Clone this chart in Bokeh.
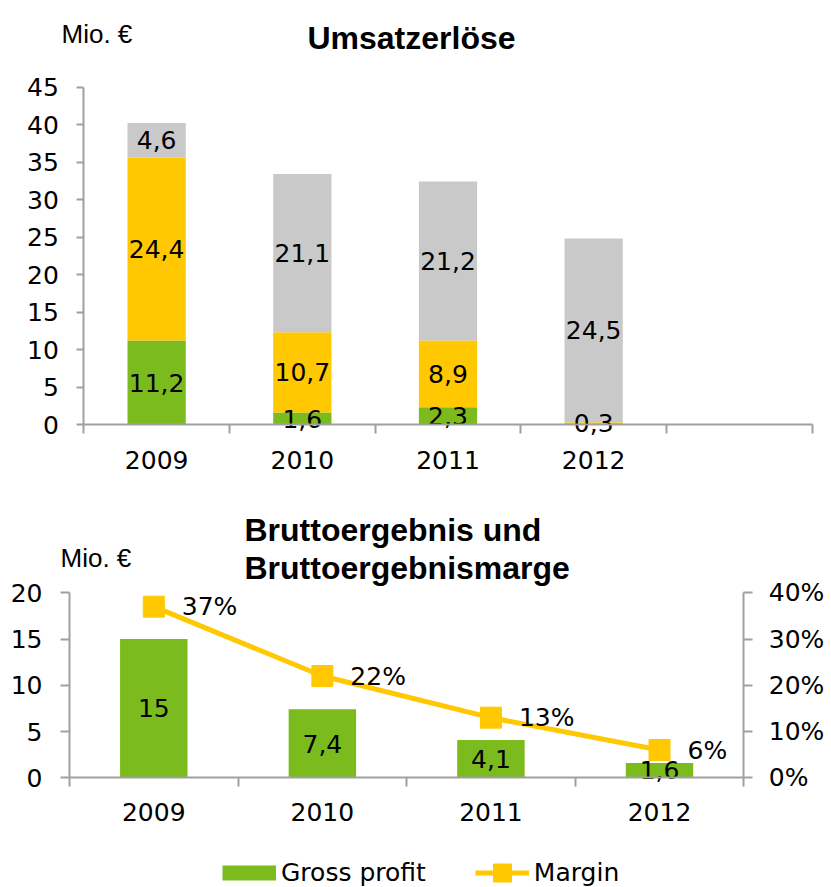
import math
from bokeh.plotting import figure
from bokeh.models import (ColumnDataSource, FixedTicker, LinearAxis, Range1d, Label,
                          Legend, LegendItem, PrintfTickFormatter)
from bokeh.layouts import column
from bokeh.embed import file_html
from bokeh.resources import INLINE
from bokeh.core.properties import value

# ---------------- data ----------------
years = ["2009", "2010", "2011", "2012"]
rev_green = [11.2, 1.6, 2.3, 0.0]
rev_yellow = [24.4, 10.7, 8.9, 0.3]
rev_gray = [4.6, 21.1, 21.2, 24.5]
top_yticks = [0, 5, 10, 15, 20, 25, 30, 35, 40, 45]

gross_profit = [15, 7.4, 4.1, 1.6]
margin_pct = [37, 22, 13, 6]
bottom_yticks = [0, 5, 10, 15, 20]
pct_ticks = [0, 10, 20, 30, 40]

# ---------------- style ----------------
GREEN = "#7BBB1E"
YELLOW = "#FFC800"
GRAY = "#C9C9C9"
AXIS = "#A0A0A0"
FONT = "DejaVu Sans"
TFONT = "Liberation Sans"
FS = "25px"
W = 831


def fmt(v):
    return ("%g" % v).replace(".", ",")


def span(px0, px1, n, total):
    """Range so that data 0..n spans screen px0..px1 on a canvas of size total."""
    k = (px1 - px0) / n
    return Range1d(-px0 / k, (total - px0) / k)


def span_y(py_top, py_zero, vmax, total):
    k = (py_zero - py_top) / vmax
    return Range1d(-(total - py_zero) / k, py_zero / k)


def style_axes(p):
    p.grid.visible = False
    p.outline_line_color = None
    for ax in p.axis:
        ax.axis_line_color = AXIS
        ax.axis_line_width = 2
        ax.major_tick_line_color = AXIS
        ax.major_tick_line_width = 2
        ax.minor_tick_line_color = AXIS
        ax.minor_tick_line_width = 2
        ax.major_tick_in = 0
        ax.minor_tick_in = 0
        ax.major_tick_out = 8
        ax.major_label_text_font = FONT
        ax.major_label_text_font_size = FS
        ax.major_label_text_color = "black"


def label(p, x, y, text, size, bold=False, align="left"):
    p.add_layout(Label(x=x, y=y, x_units="screen", y_units="screen", text=text,
                       text_font=TFONT, text_font_size=size,
                       text_font_style="bold" if bold else "normal",
                       text_color="black", text_baseline="alphabetic", text_align=align))


# ================= top chart =================
H1 = 480
n_top = len(years) + 1
xc = [i + 0.5 for i in range(len(years))]
src = ColumnDataSource(dict(x=xc, g=rev_green, y=rev_yellow, gr=rev_gray))

p1 = figure(width=W, height=H1, x_range=span(83.3, 811.7, n_top, W),
            y_range=span_y(86.5, 424, top_yticks[-1], H1),
            output_backend="svg", toolbar_location=None, min_border=0)
p1.vbar_stack(["g", "y", "gr"], x="x", width=0.4, color=[GREEN, YELLOW, GRAY],
              line_color=None, source=src)

lx, ly, lt = [], [], []
for i in range(len(years)):
    base = 0.0
    for seg in (rev_green, rev_yellow, rev_gray):
        v = seg[i]
        if v > 0:
            lx.append(xc[i])
            ly.append(base + v / 2)
            lt.append(fmt(v))
        base += v
p1.text(x=lx, y=ly, text=lt, text_align="center", text_baseline="middle",
        text_font=value(FONT), text_font_size=FS, text_color="black")

style_axes(p1)
p1.yaxis.fixed_location = 0
p1.yaxis.bounds = (0, top_yticks[-1])
p1.yaxis.ticker = FixedTicker(ticks=top_yticks)
p1.yaxis.major_tick_out = 7
p1.yaxis.major_label_standoff = 18
p1.xaxis.fixed_location = 0
p1.xaxis.bounds = (0, n_top)
p1.xaxis.ticker = FixedTicker(ticks=xc, minor_ticks=list(range(n_top + 1)))
p1.xaxis.major_label_overrides = {xc[i]: years[i] for i in range(len(years))}
p1.xaxis.major_tick_line_color = None
p1.xaxis.major_tick_out = 9
p1.xaxis.minor_tick_out = 9
p1.xaxis.major_label_standoff = 17

label(p1, 61, H1 - 33, "Mio. €", "26px")
label(p1, 411, H1 - 37, "Umsatzerlöse", "32px", bold=True, align="center")

# ================= bottom chart =================
H2 = 407
TOP2 = H1
n_bot = len(years)
src2 = ColumnDataSource(dict(x=xc, gp=gross_profit, m=margin_pct,
                             gpl=[fmt(v) for v in gross_profit],
                             gpy=[v / 2 for v in gross_profit],
                             ml=["%d%%" % v for v in margin_pct]))

p2 = figure(width=W, height=H2, x_range=span(69, 743.3, n_bot, W),
            y_range=span_y(592.3 - TOP2, 777.3 - TOP2, bottom_yticks[-1], H2),
            output_backend="svg", toolbar_location=None, min_border=0)
p2.extra_y_ranges = {"pct": span_y(592.3 - TOP2, 777.3 - TOP2, pct_ticks[-1], H2)}
bars = p2.vbar(x="x", top="gp", width=0.4, color=GREEN, line_color=None, source=src2)
line_r = p2.line(x="x", y="m", y_range_name="pct", color=YELLOW, line_width=5, source=src2)
sq_r = p2.scatter(x="x", y="m", y_range_name="pct", marker="square", size=21,
                  color=YELLOW, source=src2)
p2.text(x="x", y="gpy", text="gpl", text_align="center", text_baseline="middle",
        text_font=value(FONT), text_font_size=FS, text_color="black", source=src2)
p2.text(x="x", y="m", text="ml", y_range_name="pct", x_offset=28, text_align="left",
        text_baseline="middle", text_font=value(FONT), text_font_size=FS,
        text_color="black", source=src2)
# legend swatch for the bars (a thick green stroke that draws nothing in the plot)
swatch = p2.line(x=[math.nan], y=[math.nan], color=GREEN, line_width=15, line_cap="butt")

right = LinearAxis(y_range_name="pct", ticker=FixedTicker(ticks=pct_ticks),
                   formatter=PrintfTickFormatter(format="%d%%"))
p2.add_layout(right, "right")
style_axes(p2)
left = p2.yaxis[0]
left.fixed_location = 0
left.bounds = (0, bottom_yticks[-1])
left.ticker = FixedTicker(ticks=bottom_yticks)
left.major_tick_out = 9
left.major_label_standoff = 18
right.fixed_location = n_bot
right.bounds = (0, pct_ticks[-1])
right.major_tick_out = 9
right.major_label_standoff = 16
p2.xaxis.fixed_location = 0
p2.xaxis.bounds = (0, n_bot)
p2.xaxis.ticker = FixedTicker(ticks=xc, minor_ticks=list(range(n_bot + 1)))
p2.xaxis.major_label_overrides = {xc[i]: years[i] for i in range(len(years))}
p2.xaxis.major_tick_line_color = None
p2.xaxis.major_tick_out = 9
p2.xaxis.minor_tick_out = 9
p2.xaxis.major_label_standoff = 16

label(p2, 60, H2 - (557 - TOP2), "Mio. €", "26px")
label(p2, 244, H2 - (529 - TOP2), "Bruttoergebnis und", "32px", bold=True)
label(p2, 244, H2 - (567 - TOP2), "Bruttoergebnismarge", "32px", bold=True)

legend = Legend(items=[LegendItem(label="Gross profit", renderers=[swatch]),
                       LegendItem(label="Margin", renderers=[line_r, sq_r])],
                location=(222, -8), orientation="horizontal",
                glyph_width=54, glyph_height=45, label_standoff=5, spacing=49,
                padding=0, margin=0, border_line_color=None, background_fill_alpha=0,
                label_text_font=FONT, label_text_font_size=FS, label_text_color="black")
p2.add_layout(legend)

layout = column(p1, p2, spacing=0)
open("out.html", "w").write(file_html(layout, INLINE))
